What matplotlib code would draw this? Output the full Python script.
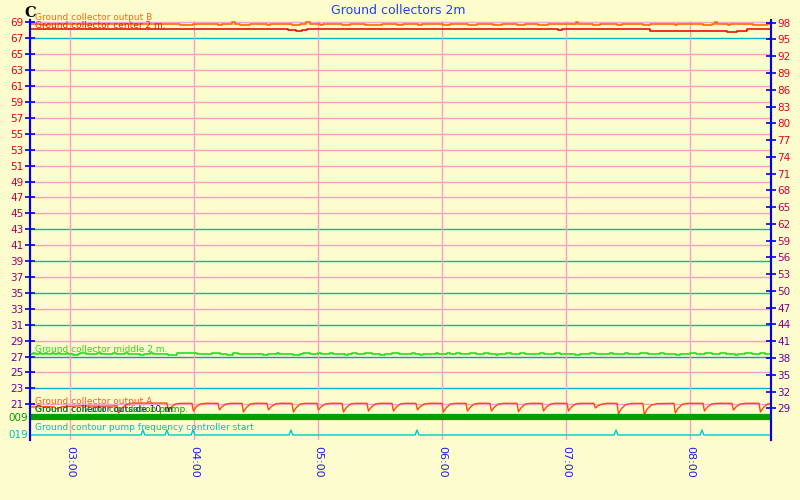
import matplotlib.pyplot as plt
import numpy as np

# time axis in minutes after midnight
hours = [180, 240, 300, 360, 420, 480]
hour_labels = ['03:00', '04:00', '05:00', '06:00', '07:00', '08:00']
left_ticks = list(range(21, 70, 2))
right_ticks = list(range(29, 99, 3))
cyan_rows = [67, 43, 39, 35, 31, 27, 23]

# Ground collector output B (time, value)
out_b = [(160.4, 68.87), (166.5, 68.68), (169.5, 68.87), (233.0, 68.68), (239.5, 68.87),
         (251.5, 68.68), (253.5, 68.87), (258.5, 69.0), (260.0, 68.87), (262.3, 68.68),
         (267.0, 68.87), (275.3, 68.68), (277.0, 68.87), (287.4, 68.68), (291.3, 68.87),
         (294.0, 69.0), (296.0, 68.87), (301.0, 68.68), (302.5, 68.87), (311.6, 68.68),
         (315.5, 68.87), (322.7, 68.68), (331.0, 68.87), (338.2, 68.68), (341.0, 68.87),
         (348.4, 68.68), (350.3, 68.87), (360.5, 68.68), (364.0, 68.87), (372.6, 68.68),
         (377.0, 68.87), (384.7, 68.68), (389.0, 68.87), (396.3, 68.68), (400.2, 68.87),
         (406.5, 68.68), (411.3, 68.87), (425.0, 69.0), (426.0, 68.87), (433.0, 68.68),
         (436.5, 68.87), (444.7, 68.68), (447.0, 68.87), (457.3, 68.68), (460.7, 68.87),
         (472.7, 68.68), (473.7, 68.87), (486.3, 68.68), (490.6, 68.87), (492.0, 69.0),
         (493.0, 68.87), (498.4, 68.68), (499.3, 68.87), (510.5, 68.68), (517.3, 68.87),
         (519.2, 68.87)]

# Ground collector center 2 m.
center = [(160.4, 68.15), (285.5, 68.03), (289.5, 67.95), (292.3, 68.03), (294.7, 68.15),
          (416.0, 68.0), (418.0, 68.15), (460.6, 67.93), (462.1, 67.89), (466.3, 67.95),
          (468.7, 67.89), (471.2, 67.93), (474.4, 67.95), (480.0, 67.93), (484.8, 67.89),
          (486.5, 67.93), (489.7, 67.89), (493.7, 67.93), (497.7, 67.84), (500.2, 67.81),
          (502.6, 67.89), (507.4, 68.15), (519.2, 68.15)]

# Ground collector middle 2 m.
middle = [(160.4, 27.28), (162.0, 27.42), (163.0, 27.28), (165.0, 27.42), (166.0, 27.28),
          (168.0, 27.42), (169.0, 27.28), (171.3, 27.42), (172.3, 27.28), (174.2, 27.42),
          (175.2, 27.28), (178.0, 27.42), (179.0, 27.28), (181.5, 27.15), (184.0, 27.28),
          (185.0, 27.42), (187.7, 27.28), (193.0, 27.42), (195.0, 27.28), (200.8, 27.42),
          (202.3, 27.28), (206.6, 27.42), (208.0, 27.28), (213.9, 27.15), (215.8, 27.28),
          (218.7, 27.42), (220.2, 27.28), (227.4, 27.15), (231.8, 27.42), (241.5, 27.28),
          (248.7, 27.42), (252.6, 27.28), (256.0, 27.15), (258.9, 27.42), (261.3, 27.28),
          (273.4, 27.15), (275.8, 27.28), (280.2, 27.42), (281.1, 27.28), (288.0, 27.15),
          (291.3, 27.28), (292.7, 27.42), (296.1, 27.28), (300.0, 27.42), (301.5, 27.28),
          (305.8, 27.42), (307.3, 27.28), (313.1, 27.15), (314.5, 27.28), (316.5, 27.42),
          (318.9, 27.28), (322.7, 27.42), (326.1, 27.28), (330.0, 27.15), (332.4, 27.28),
          (335.8, 27.42), (339.2, 27.28), (345.5, 27.42), (346.9, 27.28), (349.4, 27.15),
          (350.8, 27.28), (357.1, 27.42), (358.1, 27.28), (362.4, 27.42), (363.9, 27.28),
          (366.8, 27.42), (368.7, 27.28), (373.6, 27.42), (376.5, 27.28), (380.3, 27.42),
          (382.7, 27.28), (386.1, 27.15), (387.1, 27.28), (391.0, 27.42), (393.4, 27.28),
          (397.7, 27.42), (400.2, 27.28), (407.4, 27.42), (409.4, 27.28), (414.7, 27.42),
          (417.1, 27.28), (424.4, 27.15), (426.8, 27.28), (431.6, 27.42), (434.0, 27.28),
          (441.3, 27.42), (442.7, 27.28), (448.5, 27.42), (450.0, 27.28), (455.8, 27.42),
          (459.7, 27.28), (465.5, 27.42), (467.4, 27.28), (473.2, 27.15), (475.2, 27.28),
          (480.0, 27.42), (482.9, 27.28), (487.3, 27.42), (490.6, 27.28), (494.5, 27.42),
          (497.4, 27.28), (501.8, 27.15), (503.2, 27.28), (506.6, 27.42), (510.0, 27.28),
          (513.9, 27.42), (516.3, 27.28), (519.2, 27.28)]

# Ground collector output A
out_a = [(160.4, 20.66), (168.0, 20.7), (172.5, 20.66), (173.2, 20.4), (174.5, 20.55),
         (176.5, 20.7), (185.0, 20.8), (195.0, 20.75), (202.8, 20.8),
         (203.5, 19.9), (205.0, 20.5), (207.0, 20.9), (210.0, 21.15), (226.9, 21.15),
         (227.6, 20.15), (229.0, 20.64), (231.0, 21.04), (233.5, 21.12), (239.0, 21.12),
         (239.7, 20.15), (241.0, 20.64), (243.0, 21.04), (245.5, 21.12), (251.6, 21.12),
         (252.3, 20.3), (253.6, 20.71), (255.6, 21.04), (258.0, 21.12), (263.2, 21.12),
         (263.9, 20.03), (265.3, 20.58), (267.3, 21.04), (270.0, 21.12), (275.3, 21.12),
         (276.0, 20.3), (277.4, 20.71), (279.4, 21.04), (282.0, 21.12), (287.4, 21.12),
         (288.1, 20.03), (289.5, 20.58), (291.5, 21.04), (294.0, 21.12), (299.5, 21.12),
         (300.2, 20.3), (301.6, 20.71), (303.6, 21.04), (306.0, 21.12), (311.6, 21.12),
         (312.3, 20.03), (313.7, 20.58), (315.7, 21.04), (318.0, 21.12), (323.7, 21.12),
         (324.4, 20.15), (325.8, 20.64), (327.8, 21.04), (330.0, 21.12), (335.8, 21.12),
         (336.5, 20.15), (337.9, 20.64), (339.9, 21.04), (342.0, 21.12), (347.4, 21.12),
         (348.1, 20.3), (349.5, 20.71), (351.5, 21.04), (354.0, 21.12), (360.0, 21.12),
         (360.7, 20.03), (362.1, 20.58), (364.1, 21.04), (366.5, 21.12), (371.6, 21.12),
         (372.3, 20.15), (373.7, 20.64), (375.7, 21.04), (378.0, 21.12), (383.2, 21.12),
         (383.9, 20.15), (385.3, 20.64), (387.3, 21.04), (390.0, 21.12), (396.3, 21.12),
         (397.0, 20.07), (398.4, 20.6), (400.4, 21.04), (403.0, 21.12), (408.4, 21.12),
         (409.1, 20.15), (410.5, 20.64), (412.5, 21.04), (415.0, 21.12), (420.5, 21.12),
         (421.2, 20.15), (422.6, 20.64), (424.6, 21.04), (427.0, 21.12), (433.5, 21.12),
         (434.2, 20.53), (435.6, 20.83), (437.6, 21.04), (440.0, 21.12), (444.7, 21.12),
         (445.4, 19.78), (446.8, 20.45), (448.8, 20.95), (451.5, 21.1), (457.2, 21.12),
         (457.9, 19.65), (459.3, 20.4), (461.3, 20.9), (464.0, 21.08), (472.2, 21.12),
         (472.9, 19.9), (474.3, 20.5), (476.3, 21.0), (479.0, 21.12), (486.3, 21.12),
         (487.0, 20.15), (488.4, 20.64), (490.4, 21.04), (493.0, 21.12), (500.3, 21.12),
         (501.0, 20.28), (502.4, 20.7), (504.4, 21.04), (507.0, 21.12), (513.4, 21.12),
         (514.1, 20.03), (515.5, 20.58), (517.5, 21.04), (519.2, 21.08)]

# digital channels
pump_on = [(160.4, 1), (519.2, 1)]
fc_start = [215.3, 226.9, 239.5, 286.9, 347.9, 444.2, 485.8]

bg = '#fcfccc'
pink = '#f7a0c8'
cyan = '#00b4c8'
blue = '#0000e0'

fig = plt.figure(figsize=(8, 5), dpi=100, facecolor=bg)
ax = fig.add_axes([29.5/800, 60/500, 741.5/800, 419.5/500], facecolor=bg)
ax.set_xlim(160.4, 519.2)
ax.set_ylim(16.51, 69.25)

for v in left_ticks:
    c = cyan if v in cyan_rows else pink
    if v == 27:
        c = '#0096dc'
    ax.axhline(v, color=c, lw=1, zorder=1)
for h in hours:
    ax.axvline(h, color=pink, lw=1, zorder=1)

t, v = zip(*out_b)
ax.plot(t, v, drawstyle='steps-post', color='#ff6a00', lw=1.2, zorder=3)
t, v = zip(*center)
ax.plot(t, v, drawstyle='steps-post', color='#e81400', lw=1.2, zorder=3)
t, v = zip(*middle)
ax.plot(t, v, drawstyle='steps-post', color='#22e022', lw=1.2, zorder=3)
t, v = zip(*out_a)
ax.plot(t, v, color='#ff4a10', lw=1.0, zorder=3)

# digital rows drawn below the analog range
pump_row = 19.40
fc_row = 17.14
t, v = zip(*pump_on)
ax.plot(t, [pump_row] * len(t), color='#00a000', lw=4.5, solid_capstyle='butt', zorder=3)
fx = [160.4]
fy = [0]
for s in fc_start:
    fx += [s - 0.9, s, s + 0.9]
    fy += [0, 1, 0]
fx.append(519.2)
fy.append(0)
ax.plot(fx, fc_row + np.array(fy) * 0.63, color='#00c8c8', lw=1.0, zorder=3)

ax2 = ax.twinx()
ax2.set_ylim(23.33, 98.39)

for a in (ax, ax2):
    for s in ('top', 'bottom'):
        a.spines[s].set_visible(False)
    a.spines['left'].set_color(blue)
    a.spines['right'].set_color(blue)
    a.spines['left'].set_linewidth(1.5)
    a.spines['right'].set_linewidth(1.5)

ax.set_yticks(left_ticks)
ax.set_yticklabels([str(x) for x in left_ticks])
ax2.set_yticks(right_ticks)
ax2.set_yticklabels([str(x) for x in right_ticks])
ax.tick_params(axis='y', direction='inout', length=7, width=1.2, color=blue,
               labelsize=7.5, pad=1)
ax2.tick_params(axis='y', direction='inout', length=7, width=1.2, color=blue,
                labelsize=7.5, pad=1)

def label_color(frac):
    top = np.array([0.9, 0.0, 0.12])
    bot = np.array([0.42, 0.0, 0.62])
    k = min(max((frac - 0.3) / 0.6, 0), 1)
    return tuple(top + (bot - top) * k)

for lab, val in zip(ax.get_yticklabels(), left_ticks):
    lab.set_color(label_color((69 - val) / 48))
for lab, val in zip(ax2.get_yticklabels(), right_ticks):
    lab.set_color(label_color((98 - val) / 69))

ax.set_xticks(hours)
ax.set_xticklabels(hour_labels, rotation=-90, color='#1c1ce0', fontsize=8)
ax.tick_params(axis='x', length=0, pad=4)


def px(x, y):
    return x / 800, 1 - y / 500


series_labels = [
    ('Ground collector output B', 17, '#ff6a00'),
    ('Ground collector center 2 m.', 26, '#e82000'),
    ('Ground collector middle 2 m.', 349, '#22dd22'),
    ('Ground collector output A', 402, '#ff5a20'),
    ('Ground collector outside 10 m.', 410, '#00208a'),
    ('Ground contour circulation pump.', 410, '#00a000'),
    ('Ground contour pump frequency controller start', 427, '#00c0c0'),
]
for txt, y, c in series_labels:
    fig.text(*px(35, y), txt, color=c, fontsize=6.5, va='center', ha='left')

fig.text(*px(28, 418), '009', color='#00a000', fontsize=7.5, va='center', ha='right')
fig.text(*px(28, 435), '019', color='#00c0c0', fontsize=7.5, va='center', ha='right')
fig.text(*px(398, 11), 'Ground collectors 2m', color='#2040ff', fontsize=9,
         va='center', ha='center')
fig.text(*px(24, 13), 'C', color='black', fontsize=10.5, fontweight='bold',
         family='DejaVu Serif', va='center', ha='left')

fig.savefig('out.png', dpi=100, facecolor=bg)
